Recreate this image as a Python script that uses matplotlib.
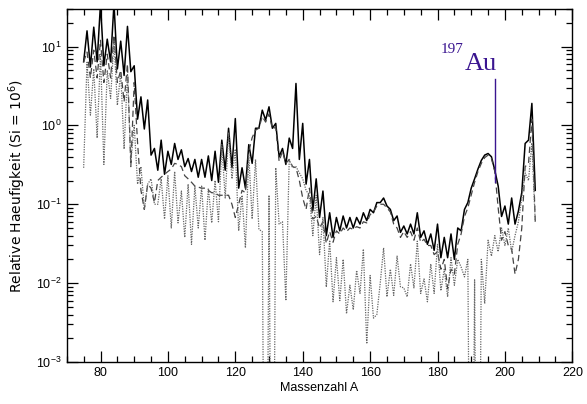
import numpy as np
import matplotlib
matplotlib.use("Agg")
import matplotlib.pyplot as plt
from matplotlib.ticker import MultipleLocator, LogLocator

# mass numbers 75..209
mass = np.arange(75, 210)

# total (solid)
total = [6.4, 15.8, 5.5, 17.6, 6.4, 35, 5.7, 12.4, 6.4, 35,
         5.2, 11.7, 4.3, 18, 4.8, 5.7, 1.2, 2.3, 0.9, 2.1,
         0.42, 0.51, 0.27, 0.65, 0.24, 0.47, 0.32, 0.59, 0.37, 0.49,
         0.30, 0.38, 0.26, 0.37, 0.22, 0.37, 0.22, 0.41, 0.20, 0.47,
         0.19, 0.65, 0.27, 0.92, 0.29, 1.22, 0.16, 0.29, 0.16, 0.57,
         0.33, 0.92, 0.92, 1.56, 1.17, 1.72, 0.92, 1.06, 0.40, 0.51,
         0.32, 0.69, 0.51, 3.4, 0.37, 1.06, 0.18, 0.37, 0.083, 0.21,
         0.068, 0.147, 0.040, 0.078, 0.038, 0.068, 0.046, 0.071, 0.050, 0.068,
         0.050, 0.068, 0.056, 0.078, 0.062, 0.086, 0.078, 0.105, 0.105, 0.12,
         0.095, 0.086, 0.062, 0.071, 0.044, 0.053, 0.042, 0.056, 0.042, 0.078,
         0.038, 0.046, 0.031, 0.042, 0.026, 0.056, 0.021, 0.038, 0.021, 0.042,
         0.020, 0.050, 0.046, 0.086, 0.105, 0.16, 0.21, 0.28, 0.36, 0.42,
         0.44, 0.40, 0.27, 0.17, 0.07, 0.095, 0.056, 0.12, 0.056, 0.082,
         0.14, 0.59, 0.65, 1.9, 0.15]

# dashed component
dashed = [6.4, 8.5, 4.0, 9.0, 4.0, 12, 3.5, 8.0, 4.0, 14,
          3.5, 5.0, 2.0, 6.0, 0.3, 3.5, 0.6, 0.15, 0.086, 0.18,
          0.16, 0.105, 0.2, 0.22, 0.24, 0.26, 0.28, 0.33, 0.32, 0.3,
          0.23, 0.21, 0.19, 0.17, 0.165, 0.16, 0.16, 0.15, 0.14, 0.14,
          0.13, 0.13, 0.13, 0.13, 0.1, 0.068, 0.1, 0.15, 0.14, 0.47,
          0.7, 0.87, 0.92, 1.3, 1.1, 1.4, 0.9, 0.95, 0.35, 0.47,
          0.33, 0.37, 0.3, 0.29, 0.2, 0.12, 0.086, 0.16, 0.065, 0.07,
          0.05, 0.06, 0.032, 0.045, 0.033, 0.046, 0.042, 0.05, 0.045, 0.05,
          0.048, 0.052, 0.05, 0.06, 0.058, 0.074, 0.08, 0.095, 0.1, 0.1,
          0.09, 0.08, 0.056, 0.05, 0.038, 0.045, 0.038, 0.045, 0.035, 0.05,
          0.033, 0.036, 0.03, 0.03, 0.023, 0.025, 0.015, 0.02, 0.0085, 0.015,
          0.013, 0.031, 0.042, 0.07, 0.09, 0.13, 0.19, 0.26, 0.33, 0.39,
          0.42, 0.38, 0.26, 0.09, 0.035, 0.045, 0.03, 0.027, 0.013, 0.02,
          0.05, 0.3, 0.33, 1.2, 0.06]

# dotted component (1e-8 = nothing left)
dotted = [0.29, 6.3, 1.35, 5.2, 0.69, 8.0, 0.32, 5.0, 2.2, 12,
          1.8, 4.7, 0.5, 4.5, 0.35, 1.0, 0.18, 0.3, 0.086, 0.18,
          0.21, 0.1, 0.1, 0.21, 0.065, 0.23, 0.05, 0.26, 0.058, 0.147,
          0.038, 0.18, 0.031, 0.17, 0.05, 0.17, 0.035, 0.16, 0.058, 0.2,
          0.06, 0.57, 0.12, 0.8, 0.21, 0.5, 0.046, 0.13, 0.028, 0.42,
          0.065, 0.37, 0.048, 0.045, 1e-8, 0.13, 1e-8, 0.29, 0.056, 0.06,
          0.006, 0.37, 0.29, 0.3, 0.25, 0.21, 0.15, 0.13, 0.04, 0.13,
          0.023, 0.068, 0.0089, 0.035, 0.0058, 0.021, 0.006, 0.02, 0.0041, 0.0094,
          0.0046, 0.0145, 0.0074, 0.027, 0.0017, 0.0125, 0.0036, 0.004, 0.01, 0.028,
          0.0067, 0.015, 0.007, 0.022, 0.009, 0.0087, 0.0067, 0.0175, 0.0087, 0.034,
          0.0074, 0.0113, 0.0058, 0.0175, 0.0074, 0.031, 0.008, 0.015, 0.0067, 0.021,
          0.0094, 0.02, 0.016, 0.012, 0.02, 1e-8, 0.011, 1e-8, 0.02, 0.0055,
          0.035, 0.022, 0.04, 0.025, 0.05, 0.03, 0.05, 0.025, 0.04, 0.06,
          0.12, 0.25, 0.2, 0.6, 0.06]

au_color = "#3a1590"

fig = plt.figure(figsize=(5.87, 4.04), dpi=100)
ax = fig.add_axes([0.1138, 0.104, 0.8612, 0.874])

ax.plot(mass, total, color="black", lw=1.1)
ax.plot(mass, dashed, color="#444444", lw=0.9, ls=(0, (5, 3)))
ax.plot(mass, dotted, color="#666666", lw=0.9, ls=(0, (1, 1)))

ax.set_yscale("log")
ax.set_xlim(70, 220)
ax.set_ylim(1e-3, 30)

ax.xaxis.set_major_locator(MultipleLocator(20))
ax.xaxis.set_minor_locator(MultipleLocator(5))
ax.yaxis.set_major_locator(LogLocator(base=10))
ax.yaxis.set_minor_locator(LogLocator(base=10, subs=np.arange(2, 10)))
ax.tick_params(which="both", direction="in", top=True, right=True, width=0.9)
ax.tick_params(which="major", length=8, labelsize=9)
ax.tick_params(which="minor", length=4)
for s in ax.spines.values():
    s.set_linewidth(1.0)

for lab in ax.get_xticklabels() + ax.get_yticklabels():
    lab.set_family("Liberation Sans")

ax.set_xlabel("Massenzahl A", fontsize=9, family="Liberation Sans", labelpad=2)
ax.set_ylabel("Relative Haeufigkeit (Si = 10$^6$)", fontsize=10, labelpad=6)

# 197Au marker
ax.plot([197, 197], [0.19, 3.9], color=au_color, lw=1.0)
ax.text(180.8, 8.3, "197", color=au_color, fontsize=11, family="Liberation Serif",
        va="baseline")
ax.text(188.0, 5.0, "Au", color=au_color, fontsize=19, family="Liberation Serif",
        va="baseline")

plt.savefig("out.png", dpi=100)
